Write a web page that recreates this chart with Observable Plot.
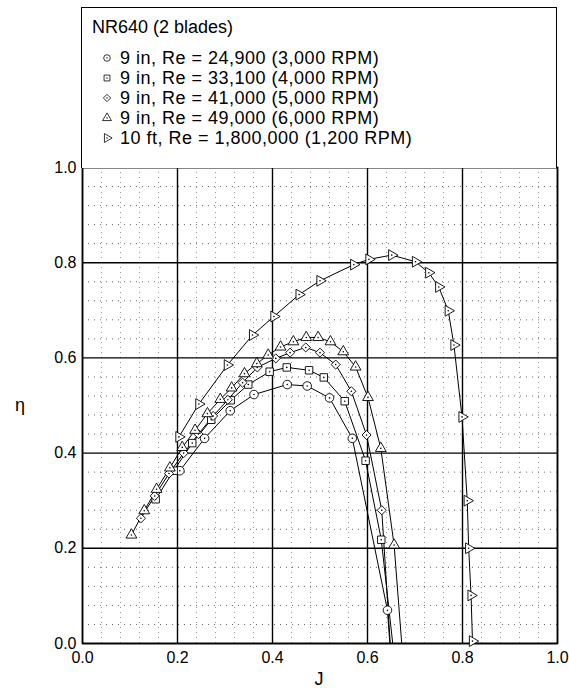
<!DOCTYPE html>
<html>
<head>
<meta charset="utf-8">
<script src="https://cdn.jsdelivr.net/npm/d3@7"></script>
<script src="https://cdn.jsdelivr.net/npm/@observablehq/plot@0.6"></script>
<style>
  html, body { margin: 0; padding: 0; background: #fff; }
  body { font-family: "Liberation Sans", Arial, Helvetica, sans-serif; }
  #wrap { position: relative; width: 569px; height: 688px; overflow: hidden; }
  #chart { position: absolute; left: 0; top: 0; }
  #legend { position: absolute; left: 81px; top: 7px; width: 476px; height: 161px;
            box-sizing: border-box; border: 1.5px solid #000; border-bottom: none; background: #fff; }
  #legend .title { position: absolute; left: 10px; top: 9px; font-size: 18px; line-height: 20px; color: #000; white-space: nowrap; }
  #legend .row { position: absolute; left: 18px; height: 20px; line-height: 20px; font-size: 18px; letter-spacing: 0.5px; color: #000; white-space: nowrap; display: flex; align-items: center; }
  #legend .row svg { width: 14px; height: 14px; margin-right: 6px; }
  .axlabel { position: absolute; font-size: 18px; color: #000; line-height: 20px; }
</style>
</head>
<body>
<div id="wrap">
  <div id="chart"></div>
  <div id="legend"></div>
  <div class="axlabel" id="xlab">J</div>
  <div class="axlabel" id="ylab">η</div>
</div>
<script>
// ---- data ----
const legendTitle = "NR640 (2 blades)";
const seriesNames = [
  "9 in, Re = 24,900 (3,000 RPM)",
  "9 in, Re = 33,100 (4,000 RPM)",
  "9 in, Re = 41,000 (5,000 RPM)",
  "9 in, Re = 49,000 (6,000 RPM)",
  "10 ft, Re = 1,800,000 (1,200 RPM)"
];

// 9 in, 3,000 RPM (circles)
const J_3000   = [0.205, 0.257, 0.311, 0.361, 0.431, 0.473, 0.520, 0.568, 0.642, 0.653];
const eta_3000 = [0.363, 0.431, 0.489, 0.523, 0.544, 0.541, 0.516, 0.431, 0.070, -0.084];

// 9 in, 4,000 RPM (squares)
const J_4000   = [0.154, 0.192, 0.231, 0.271, 0.312, 0.349, 0.394, 0.430, 0.477, 0.508, 0.552, 0.596, 0.629, 0.662];
const eta_4000 = [0.303, 0.363, 0.421, 0.470, 0.511, 0.544, 0.571, 0.580, 0.574, 0.559, 0.509, 0.384, 0.218, -0.080];

// 9 in, 5,000 RPM (diamonds)
const J_5000   = [0.123, 0.152, 0.182, 0.213, 0.244, 0.275, 0.306, 0.337, 0.368, 0.407, 0.437, 0.470, 0.500, 0.533, 0.566, 0.598, 0.630, 0.660];
const eta_5000 = [0.263, 0.310, 0.357, 0.400, 0.440, 0.478, 0.512, 0.548, 0.580, 0.599, 0.611, 0.622, 0.611, 0.586, 0.530, 0.438, 0.280, -0.190];

// 9 in, 6,000 RPM (triangles up)
const J_6000   = [0.103, 0.130, 0.156, 0.184, 0.210, 0.237, 0.263, 0.290, 0.314, 0.341, 0.367, 0.391, 0.417, 0.444, 0.471, 0.496, 0.522, 0.549, 0.575, 0.601, 0.628, 0.656, 0.683];
const eta_6000 = [0.228, 0.279, 0.324, 0.369, 0.412, 0.448, 0.483, 0.513, 0.537, 0.567, 0.588, 0.606, 0.623, 0.634, 0.643, 0.643, 0.634, 0.613, 0.581, 0.517, 0.410, 0.207, -0.141];

// 10 ft, 1,200 RPM (triangles right)
const J_10ft   = [0.203, 0.245, 0.305, 0.358, 0.403, 0.456, 0.500, 0.571, 0.603, 0.651, 0.701, 0.729, 0.750, 0.770, 0.782, 0.799, 0.810, 0.813, 0.818, 0.821];
const eta_10ft = [0.434, 0.503, 0.585, 0.648, 0.687, 0.733, 0.762, 0.796, 0.807, 0.816, 0.802, 0.779, 0.749, 0.699, 0.627, 0.476, 0.300, 0.200, 0.101, 0.005];

const majorTicks = [0, 0.2, 0.4, 0.6, 0.8, 1.0];
const minorTicks = [0.04, 0.08, 0.12, 0.16, 0.24, 0.28, 0.32, 0.36, 0.44, 0.48, 0.52, 0.56, 0.64, 0.68, 0.72, 0.76, 0.84, 0.88, 0.92, 0.96];

// ---- symbols ----
const triRight = {
  draw(ctx, size) {
    const s = Math.sqrt(4 * size / Math.sqrt(3));
    const h = Math.sqrt(3) / 2 * s;
    ctx.moveTo(2 * h / 3, 0);
    ctx.lineTo(-h / 3, -s / 2);
    ctx.lineTo(-h / 3, s / 2);
    ctx.closePath();
  }
};

const series = [
  {J: J_3000, eta: eta_3000, symbol: d3.symbolCircle, r: 4.3, clip: true},
  {J: J_4000, eta: eta_4000, symbol: d3.symbolSquare, r: 4.2, clip: true},
  {J: J_5000, eta: eta_5000, symbol: d3.symbolDiamond2, r: 4.1, clip: true},
  {J: J_6000, eta: eta_6000, symbol: d3.symbolTriangle, r: 4.0, clip: true},
  {J: J_10ft, eta: eta_10ft, symbol: triRight, r: 4.0, clip: false}
].map((s, i) => ({...s, name: seriesNames[i], data: s.J.map((j, k) => ({J: j, eta: s.eta[k]}))}));

const marks = [
  Plot.ruleX(minorTicks, {stroke: "#999", strokeDasharray: "1,4", strokeWidth: 1}),
  Plot.ruleY(minorTicks, {stroke: "#666", strokeDasharray: "1,5", strokeWidth: 1}),
  Plot.ruleX(majorTicks, {stroke: "#000", strokeWidth: 1.4}),
  Plot.ruleY(majorTicks, {stroke: "#000", strokeWidth: 1.4}),
  Plot.frame({stroke: "#000", strokeWidth: 1.6})
];
for (const s of series) {
  marks.push(Plot.line(s.data, {x: "J", y: "eta", stroke: "#000", strokeWidth: 1, clip: s.clip}));
}
for (const s of series) {
  marks.push(Plot.dot(s.data, {x: "J", y: "eta", symbol: s.symbol, r: s.r, fill: "#fff", stroke: "#000", strokeWidth: 0.9, clip: s.clip}));
  marks.push(Plot.dot(s.data, {x: "J", y: "eta", r: 0.8, fill: "#000", stroke: "none", clip: s.clip}));
}
marks.push(Plot.axisX(majorTicks, {tickSize: 0, tickPadding: 8, tickFormat: d3.format(".1f"), label: null, fontSize: 16}));
marks.push(Plot.axisY(majorTicks, {tickSize: 0, tickPadding: 6, tickFormat: d3.format(".1f"), label: null, fontSize: 16}));

const chart = Plot.plot({
  width: 569,
  height: 688,
  marginTop: 167,
  marginBottom: 45,
  marginLeft: 82,
  marginRight: 12,
  x: {domain: [0, 1]},
  y: {domain: [0, 1]},
  style: {fontFamily: "'Liberation Sans', Arial, sans-serif", fontSize: "16px", background: "transparent", color: "#000"},
  marks
});
document.getElementById("chart").appendChild(chart);

// ---- legend ----
const legend = document.getElementById("legend");
const t = document.createElement("div");
t.className = "title";
t.textContent = legendTitle;
legend.appendChild(t);
series.forEach((s, i) => {
  const row = document.createElement("div");
  row.className = "row";
  row.style.top = (40 + 20 * i) + "px";
  const svg = d3.create("svg").attr("viewBox", "-7 -7 14 14");
  svg.append("path").attr("d", d3.symbol(s.symbol, Math.PI * 3.3 * 3.3)())
     .attr("fill", "#fff").attr("stroke", "#000").attr("stroke-width", 0.8);
  svg.append("circle").attr("r", 0.7).attr("fill", "#000");
  row.appendChild(svg.node());
  const span = document.createElement("span");
  span.textContent = s.name;
  row.appendChild(span);
  legend.appendChild(row);
});

// axis labels
const xlab = document.getElementById("xlab");
xlab.style.left = (82 + (569 - 82 - 12) / 2 - 5) + "px";
xlab.style.top = "669px";
const ylab = document.getElementById("ylab");
ylab.style.left = "15px";
ylab.style.top = (167 + (688 - 167 - 45) / 2 - 10) + "px";
</script>
</body>
</html>
